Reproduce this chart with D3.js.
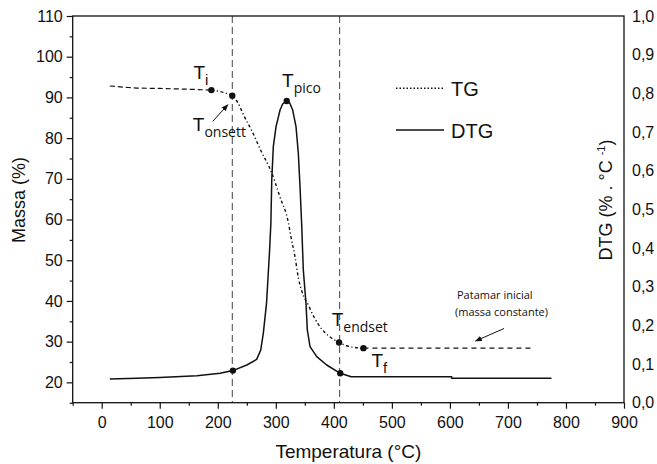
<!DOCTYPE html>
<html><head><meta charset="utf-8">
<script src="https://cdn.jsdelivr.net/npm/d3@7"></script>
<style>
body{margin:0;background:#fff;}
text{font-family:"Liberation Sans",Arial,sans-serif;fill:#111;}
.cal{font-family:"Open Sans","Noto Sans",sans-serif;}
</style></head><body>
<svg id="c" width="657" height="464"></svg>
<script>
// ---- data ----
const xTicks = [0,100,200,300,400,500,600,700,800,900];
const yLeftTicks = [20,30,40,50,60,70,80,90,100,110];
const yRightTicks = [0,0.1,0.2,0.3,0.4,0.5,0.6,0.7,0.8,0.9,1.0];
// TG (Massa %) in three line-style segments
const tgInitial = [[14,92.8],[40,92.5],[60,92.3],[100,92.2],[150,92.0],[189,91.8]];
const tgDecomp = [[189,91.8],[210,91.2],[225,90.4],[235,88.6],[245,85.5],[258,82],[275,76.7],[292,71.8],[307,65.6],[322,59],[326,55.8],[333,50.9],[339,45.6],[345,42.3],[356,39],[366,36],[376,33.7],[393,31.2],[409,29.8],[422,29],[434,28.6],[451,28.4]];
const tgFinal = [[451,28.4],[600,28.4],[741,28.4]];
// DTG (% . °C^-1)
const dtgTemp = [14,60,100,164,204,226,250,267,274,278.5,284,289,291.5,293,295.7,300.4,307.3,312,318.8,324,329,334.8,338.8,341.7,344.6,347.4,352,354.3,359,370.5,387.7,411,430,603,603,775];
const dtgValue = [0.061,0.063,0.065,0.07,0.076,0.083,0.0975,0.112,0.136,0.18,0.257,0.386,0.464,0.576,0.662,0.714,0.757,0.773,0.78,0.775,0.757,0.714,0.645,0.559,0.46,0.343,0.257,0.188,0.145,0.119,0.0975,0.076,0.067,0.067,0.063,0.063];
const vLines = [225,410];
const tgPoints = [{n:"Ti",t:189,v:91.8},{n:"Tonsett",t:225,v:90.4},{n:"Tendset",t:409,v:29.8},{n:"Tf",t:451,v:28.4}];
const dtgPoints = [{n:"Tpico",t:318.8,v:0.78},{n:"d1",t:226,v:0.083},{n:"d2",t:411,v:0.076}];

// ---- scales ----
const svg = d3.select("#c");
const L=72.7,R=624,T=16,B=402.7;
const x = d3.scaleLinear().domain([-50,900]).range([L,R]);
const yL = d3.scaleLinear().domain([15,110]).range([B,T]);
const yR = d3.scaleLinear().domain([0,1]).range([B,T]);
const ink="#111";

// dashed vertical lines
svg.selectAll(".vl").data(vLines).enter().append("line")
  .attr("x1",d=>x(d)).attr("x2",d=>x(d)).attr("y1",T).attr("y2",B)
  .attr("stroke","#444").attr("stroke-width",1).attr("stroke-dasharray","7,4");

// axes
const gL = svg.append("g").attr("transform",`translate(${L},0)`)
  .call(d3.axisLeft(yL).tickValues(yLeftTicks).tickSize(6).tickSizeOuter(0).tickPadding(4));
svg.append("g").attr("transform",`translate(${L},0)`)
  .call(d3.axisLeft(yL).tickValues(d3.range(15,110,10)).tickSize(3).tickSizeOuter(0).tickFormat(""));
const gB = svg.append("g").attr("transform",`translate(0,${B})`)
  .call(d3.axisBottom(x).tickValues(xTicks).tickSize(6).tickSizeOuter(0).tickPadding(8));
svg.append("g").attr("transform",`translate(0,${B})`)
  .call(d3.axisBottom(x).tickValues(d3.range(-50,900,100)).tickSize(3).tickSizeOuter(0).tickFormat(""));
const gR = svg.append("g").attr("transform",`translate(${R},0)`)
  .call(d3.axisRight(yR).tickValues(yRightTicks).tickSize(0).tickSizeOuter(0).tickPadding(8)
  .tickFormat(d=>d3.format(".1f")(d).replace(".",",")));
svg.selectAll(".domain").remove();
svg.selectAll(".tick line").attr("stroke",ink).attr("stroke-width",1.2);
svg.selectAll(".tick text").attr("font-size",16).attr("fill","#222")
  .style("font-family","'Liberation Sans',Arial,sans-serif");
svg.append("rect").attr("x",L).attr("y",T).attr("width",R-L).attr("height",B-T)
  .attr("fill","none").attr("stroke",ink).attr("stroke-width",1.3);

// lines
const lineTG = d3.line().x(d=>x(d[0])).y(d=>yL(d[1])).curve(d3.curveMonotoneX);
svg.append("path").datum(tgInitial).attr("d",lineTG).attr("fill","none").attr("stroke",ink)
  .attr("stroke-width",1.2).attr("stroke-dasharray","5,3");
svg.append("path").datum(tgDecomp).attr("d",lineTG).attr("fill","none").attr("stroke",ink)
  .attr("stroke-width",1.4).attr("stroke-dasharray","3,2.5,1.2,2.5");
svg.append("path").datum(tgFinal).attr("d",lineTG).attr("fill","none").attr("stroke",ink)
  .attr("stroke-width",1.2).attr("stroke-dasharray","5,4");
const dtgData = dtgTemp.map((t,i)=>[t,dtgValue[i]]);
const lineD = d3.line().x(d=>x(d[0])).y(d=>yR(d[1]));
svg.append("path").datum(dtgData).attr("d",lineD).attr("fill","none").attr("stroke",ink)
  .attr("stroke-width",1.5).attr("stroke-linejoin","round");

// points
svg.selectAll(".pt").data(tgPoints).enter().append("circle")
  .attr("cx",d=>x(d.t)).attr("cy",d=>yL(d.v)).attr("r",3.2).attr("fill",ink);
svg.selectAll(".pd").data(dtgPoints).enter().append("circle")
  .attr("cx",d=>x(d.t)).attr("cy",d=>yR(d.v)).attr("r",3.2).attr("fill",ink);

// arrow marker
svg.append("defs").append("marker").attr("id","ah").attr("viewBox","0 0 10 10")
  .attr("refX",9).attr("refY",5).attr("markerWidth",7).attr("markerHeight",7)
  .attr("orient","auto").append("path").attr("d","M0,1 L10,5 L0,9 Z").attr("fill",ink);

// labels
function tlabel(px,py,sub,subCls){
  const t = svg.append("text").attr("x",px).attr("y",py);
  t.append("tspan").attr("font-size",19).text("T");
  const s = t.append("tspan").attr("font-size",subCls?14:15).attr("dy",6).text(sub);
  if(subCls) s.attr("class","cal");
  return t;
}
const P = Object.fromEntries(tgPoints.map(d=>[d.n,[x(d.t),yL(d.v)]]));
const Q = Object.fromEntries(dtgPoints.map(d=>[d.n,[x(d.t),yR(d.v)]]));
tlabel(P.Ti[0]-18,P.Ti[1]-11,"i",false);
tlabel(P.Tonsett[0]-39.5,P.Tonsett[1]+35.5,"onsett",true);
svg.append("line").attr("x1",P.Tonsett[0]-19.5).attr("y1",P.Tonsett[1]+25.5)
  .attr("x2",P.Tonsett[0]-4.5).attr("y2",P.Tonsett[1]+9).attr("stroke",ink).attr("stroke-width",1)
  .attr("marker-end","url(#ah)");
tlabel(Q.Tpico[0]-4.7,Q.Tpico[1]-13.8,"pico",true);
tlabel(P.Tendset[0]-7.4,P.Tendset[1]-16.5,"endset",true);
tlabel(P.Tf[0]+8,P.Tf[1]+18.5,"f",false);

// Patamar annotation
svg.append("text").attr("class","cal").attr("x",457).attr("y",299).attr("font-size",11).text("Patamar inicial");
svg.append("text").attr("class","cal").attr("x",455).attr("y",316).attr("font-size",11).text("(massa constante)");
svg.append("line").attr("x1",504).attr("y1",328.5).attr("x2",475.5).attr("y2",341)
  .attr("stroke",ink).attr("stroke-width",1).attr("marker-end","url(#ah)");

// legend
svg.append("line").attr("x1",396).attr("x2",444).attr("y1",88.3).attr("y2",88.3)
  .attr("stroke",ink).attr("stroke-width",1.4).attr("stroke-dasharray","1.5,2");
svg.append("text").attr("x",451).attr("y",95.5).attr("font-size",20).text("TG");
svg.append("line").attr("x1",396).attr("x2",444).attr("y1",130).attr("y2",130)
  .attr("stroke",ink).attr("stroke-width",1.5);
svg.append("text").attr("x",451).attr("y",137.5).attr("font-size",20).text("DTG");

// axis titles
svg.append("text").attr("transform","translate(25,200) rotate(-90)").attr("text-anchor","middle")
  .attr("font-size",18).text("Massa (%)");
const rt = svg.append("text").attr("transform","translate(612,200) rotate(-90)").attr("text-anchor","middle")
  .attr("font-size",18);
rt.append("tspan").text("DTG (% . °C ");
rt.append("tspan").attr("font-size",11).attr("dy",-7).text("-1");
rt.append("tspan").attr("dy",7).text(")");
svg.append("text").attr("x",(L+R)/2).attr("y",458).attr("text-anchor","middle")
  .attr("font-size",19).text("Temperatura (°C)");
</script></body></html>
